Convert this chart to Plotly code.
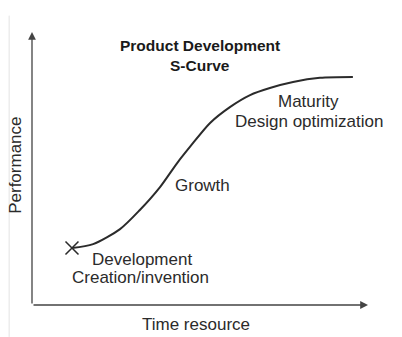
import plotly.graph_objects as go

# S-curve: performance against time/resource (arbitrary units, 0-100)
time_vals = [11.9, 18.2, 26.2, 32.1, 38.1, 43.2, 47.0, 53.0, 58.9, 64.9, 70.8, 77.7, 85.7, 95.5]
perf_vals = [20.9, 22.3, 27.8, 34.8, 43.2, 52.0, 57.9, 66.7, 72.5, 76.9, 79.5, 81.7, 83.2, 83.5]

# Stage labels: (text, x, y)
stage_labels = [
    ("Maturity", 82.4, 74.7),
    ("Design optimization", 82.4, 67.4),
    ("Growth", 50.6, 43.6),
    ("Development", 32.7, 16.5),
    ("Creation/invention", 32.4, 9.9),
]
title_lines = [("Product Development", 50.0, 95.2), ("S-Curve", 50.0, 87.6)]
x_label = "Time resource"
y_label = "Performance"

INK = "#2b2b2b"
FONT = "Liberation Sans, Arial, Helvetica, sans-serif"

fig = go.Figure()
fig.add_trace(go.Scatter(
    x=time_vals, y=perf_vals, mode="lines",
    line=dict(color=INK, width=2, shape="spline", smoothing=0.8),
    hoverinfo="skip", showlegend=False,
))
# starting point marker
fig.add_trace(go.Scatter(
    x=[time_vals[0]], y=[perf_vals[0]], mode="markers",
    marker=dict(symbol="x-thin", size=13, line=dict(color=INK, width=1.5)),
    hoverinfo="skip", showlegend=False,
))

ann = []
# axis arrows
ann.append(dict(x=100, y=0, ax=0, ay=0, xref="x", yref="y", axref="x", ayref="y",
                showarrow=True, arrowhead=2, arrowsize=1.2, arrowwidth=1.3,
                arrowcolor="#444", text=""))
ann.append(dict(x=0, y=100, ax=0, ay=0, xref="x", yref="y", axref="x", ayref="y",
                showarrow=True, arrowhead=2, arrowsize=1.2, arrowwidth=1.3,
                arrowcolor="#444", text=""))
for txt, x, y in title_lines:
    ann.append(dict(x=x, y=y, xref="x", yref="y", text=f"<b>{txt}</b>", showarrow=False,
                    font=dict(family=FONT, size=15.5, color="#1a1a1a")))
for txt, x, y in stage_labels:
    ann.append(dict(x=x, y=y, xref="x", yref="y", text=txt, showarrow=False,
                    font=dict(family=FONT, size=17, color=INK)))
ann.append(dict(x=0.488, y=-0.07, xref="paper", yref="paper", text=x_label,
                xanchor="center", yanchor="middle", showarrow=False,
                font=dict(family=FONT, size=17, color=INK)))
ann.append(dict(x=-0.048, y=0.513, xref="paper", yref="paper", text=y_label,
                xanchor="center", yanchor="middle", showarrow=False, textangle=-90,
                font=dict(family=FONT, size=17, color=INK)))

fig.update_layout(
    width=402, height=337,
    margin=dict(l=32, r=34, t=32, b=32),
    paper_bgcolor="white", plot_bgcolor="white",
    xaxis=dict(range=[0, 100], visible=False, fixedrange=True),
    yaxis=dict(range=[0, 100], visible=False, fixedrange=True),
    annotations=ann,
    shapes=[dict(type="line", xref="paper", yref="paper", x0=-0.068, x1=-0.068,
                 y0=-0.117, y1=1.06, line=dict(color="#e4e4e4", width=1))],
)

fig.write_html("out.html")
